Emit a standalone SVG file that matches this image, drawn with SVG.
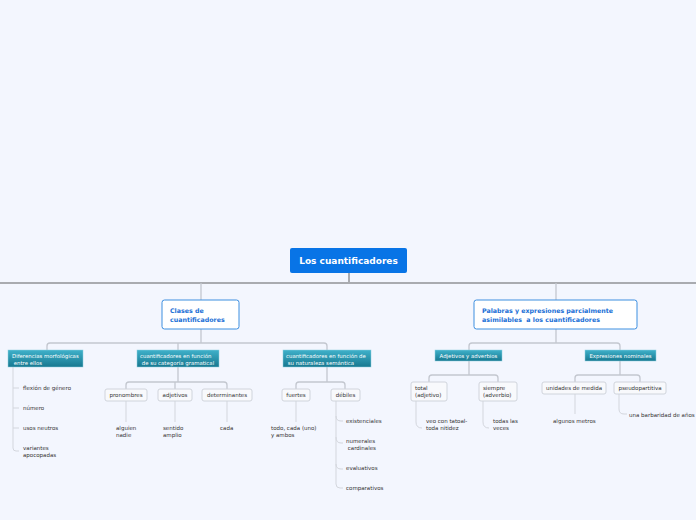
<svg xmlns="http://www.w3.org/2000/svg" width="696" height="520" viewBox="0 0 696 520">
<defs>
<linearGradient id="teal" x1="0" y1="0" x2="0" y2="1">
<stop offset="0" stop-color="#3fb1ca"/>
<stop offset="1" stop-color="#177890"/>
</linearGradient>
</defs>
<style>
text{font-family:"DejaVu Sans",Verdana,sans-serif;white-space:pre;}
.main{stroke:#a9abb0;stroke-width:2;fill:none;}
.br{stroke:#c3c7cf;stroke-width:1.3;fill:none;}
.lf{stroke:#d3d6dd;stroke-width:1;fill:none;}
.root rect{fill:#0874e6;}
.root text{fill:#ffffff;font-size:9px;font-weight:bold;text-anchor:middle;}
.l1 rect{fill:#ffffff;stroke:#3d8fe0;stroke-width:1;}
.l1 text{fill:#1a6fd6;font-size:6.3px;font-weight:bold;}
.l2 rect{fill:url(#teal);stroke:#8fd0e0;stroke-width:0.5;}
.l2 text{fill:#ffffff;font-size:5.4px;}
.l3 rect{fill:#f8f9fc;stroke:#d0d4dc;stroke-width:1;}
.l3 text{fill:#333333;font-size:5.5px;}
.lt{fill:#333333;font-size:5.5px;}
.c{text-anchor:middle;}
</style>
<rect width="696" height="520" fill="#f3f6fe"/>
<g id="connectors">
<path class="main" d="M0 283 H696 M349 273 V283"/>
<path class="br" d="M201 283 V300 M556 283 V300"/>
<path class="br" d="M201 329 V343 M47 350 V346 Q47 343 50 343 H324 Q327 343 327 346 V350 M178 343 V350"/>
<path class="br" d="M178 367 V382 M126 389 V385 Q126 382 129 382 H224 Q227 382 227 385 V389 M175 382 V389"/>
<path class="br" d="M327 367 V382 M296 389 V385 Q296 382 299 382 H342 Q345 382 345 385 V389"/>
<path class="br" d="M556 329 V343 M469 350 V346 Q469 343 472 343 H617 Q620 343 620 346 V350"/>
<path class="br" d="M469 361 V375 M429 382 V378 Q429 375 432 375 H495 Q498 375 498 378 V382"/>
<path class="br" d="M620 361 V375 M575 382 V378 Q575 375 578 375 H637 Q640 375 640 378 V382"/>
<path class="lf" d="M13 367 V448 Q13 451 16 451 H19 M13 388 H19 M13 408 H19 M13 428 H19"/>
<path class="lf" d="M126 401 V422 M175 401 V422 M227 401 V422 M296 401 V422"/>
<path class="lf" d="M336 401 V484 Q336 488 340 488 H343 M336 416 Q336 421 341 421 H343 M336 437 Q336 443 341 443 H343 M336 464 Q336 469 341 469 H343"/>
<path class="lf" d="M416 401 V422 Q416 428 422 428 M483 401 V422 Q483 428 489 428 M575 394 V414 M619 394 V409 Q619 414 624 414 H627"/>
</g>
<g id="root" class="root">
<rect x="290" y="248" width="117" height="25" rx="2"/>
<text x="348.5" y="264">Los cuantificadores</text>
</g>
<g id="clases" class="l1">
<rect x="162" y="300" width="77" height="29" rx="2.5"/>
<text x="170" y="313">Clases de</text>
<text x="170" y="322">cuantificadores</text>
</g>
<g id="palabras" class="l1">
<rect x="474" y="300" width="163" height="29" rx="2.5"/>
<text x="482" y="313">Palabras y expresiones parcialmente</text>
<text x="482" y="322" xml:space="preserve">asimilables  a los cuantificadores</text>
</g>
<g id="diferencias" class="l2">
<rect x="8" y="350" width="75" height="17"/>
<text x="12" y="358">Diferencias morfológicas</text>
<text x="12" y="364.5" xml:space="preserve"> entre ellos</text>
</g>
<g id="gramatical" class="l2">
<rect x="137" y="350" width="82" height="17"/>
<text x="140" y="358">cuantificadores en función</text>
<text x="140" y="364.5" xml:space="preserve"> de su categoría gramatical</text>
</g>
<g id="semantica" class="l2">
<rect x="283" y="350" width="88" height="17"/>
<text x="286" y="358">cuantificadores en función de</text>
<text x="286" y="364.5" xml:space="preserve"> su naturaleza semántica</text>
</g>
<g id="adjadv" class="l2">
<rect x="435" y="350" width="67" height="11"/>
<text class="c" x="468.5" y="357.7">Adjetivos y adverbios</text>
</g>
<g id="expnom" class="l2">
<rect x="585" y="350" width="71" height="11"/>
<text class="c" x="620.5" y="357.7">Expresiones nominales</text>
</g>
<g id="dif-leaves">
<text class="lt" x="23" y="389.7">flexión de género</text>
<text class="lt" x="23" y="409.7">número</text>
<text class="lt" x="23" y="429.7">usos neutros</text>
<text class="lt" x="23" y="449.5">variantes</text>
<text class="lt" x="23" y="457">apocopadas</text>
</g>
<g id="pronombres" class="l3">
<rect x="105" y="389" width="42" height="12" rx="2"/>
<text class="c" x="126" y="397">pronombres</text>
</g>
<g id="adjetivos" class="l3">
<rect x="158" y="389" width="34" height="12" rx="2"/>
<text class="c" x="175" y="397">adjetivos</text>
</g>
<g id="determinantes" class="l3">
<rect x="202" y="389" width="50" height="12" rx="2"/>
<text class="c" x="227" y="397">determinantes</text>
</g>
<g id="fuertes" class="l3">
<rect x="282" y="389" width="28" height="12" rx="2"/>
<text class="c" x="296" y="397">fuertes</text>
</g>
<g id="debiles" class="l3">
<rect x="331" y="389" width="29" height="12" rx="2"/>
<text class="c" x="345.5" y="397">débiles</text>
</g>
<g id="gram-leaves">
<text class="lt" x="116" y="430.3">alguien</text>
<text class="lt" x="116" y="436.8">nadie</text>
<text class="lt" x="163" y="430.3">sentido</text>
<text class="lt" x="163" y="436.8">amplio</text>
<text class="lt" x="220" y="430.3">cada</text>
</g>
<g id="sem-leaves">
<text class="lt" x="271" y="430.3">todo, cada (uno)</text>
<text class="lt" x="271" y="436.8">y ambos</text>
<text class="lt" x="346" y="423">existenciales</text>
<text class="lt" x="346" y="443">numerales</text>
<text class="lt" x="346" y="450" xml:space="preserve"> cardinales</text>
<text class="lt" x="346" y="470">evaluativos</text>
<text class="lt" x="346" y="490">comparativos</text>
</g>
<g id="total" class="l3">
<rect x="411" y="382" width="36" height="19" rx="2"/>
<text x="415" y="389.7">total</text>
<text x="415" y="396.5">(adjetivo)</text>
</g>
<g id="siempre" class="l3">
<rect x="479" y="382" width="38" height="19" rx="2"/>
<text x="483" y="389.7">siempre</text>
<text x="483" y="396.5">(adverbio)</text>
</g>
<g id="unidades" class="l3">
<rect x="542" y="382" width="64" height="12" rx="2"/>
<text class="c" x="574" y="390">unidades de medida</text>
</g>
<g id="pseudo" class="l3">
<rect x="614" y="382" width="52" height="12" rx="2"/>
<text class="c" x="640" y="390">pseudopartitiva</text>
</g>
<g id="right-leaves">
<text class="lt" x="426" y="423">veo con tatoal-</text>
<text class="lt" x="426" y="430">toda nitidez</text>
<text class="lt" x="493" y="423">todas las</text>
<text class="lt" x="493" y="430">veces</text>
<text class="lt" x="553" y="423">algunos metros</text>
<text class="lt" x="629" y="416.7">una barbaridad de años</text>
</g>
</svg>
